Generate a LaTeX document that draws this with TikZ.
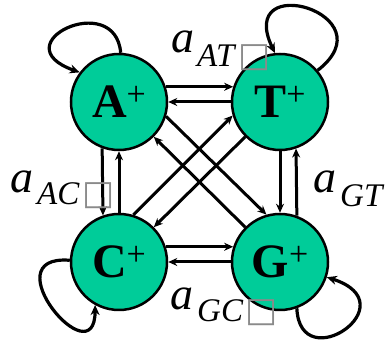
\documentclass[tikz,border=0pt]{standalone}
\usepackage{fontspec}
\setmainfont{Liberation Serif}
\newfontfamily\boxfont{DejaVu Sans}
\usetikzlibrary{arrows.meta}
\definecolor{nodegreen}{HTML}{00CC99}
\definecolor{tofugray}{HTML}{8A8A8A}
\newcommand{\plussup}{\raisebox{12pt}{\fontsize{34}{34}\selectfont\mdseries +}}
\begin{document}
\begin{tikzpicture}[x=1pt,y=1pt,
  state/.style={circle,draw=black,line width=2.5pt,fill=nodegreen,minimum size=96pt,inner sep=0pt,
    font=\fontsize{48}{48}\selectfont\bfseries},
  conn/.style={line width=3pt,-{Stealth[length=9pt,width=8pt]}},
  selfloop/.style={line width=3.2pt,line join=round,-{Stealth[length=10pt,width=9pt]}},
  lbl/.style={inner sep=0pt,anchor=base west,font=\fontsize{46}{46}\selectfont\itshape},
  sublbl/.style={inner sep=0pt,anchor=base west,font=\fontsize{33}{33}\selectfont\itshape},
  tofu/.style={inner sep=0pt,anchor=base west,text=tofugray,font=\boxfont\fontsize{34}{34}\selectfont}]
\useasboundingbox (0,0) rectangle (389,344);
\fill[white] (0,0) rectangle (389,344);
% states
\node[state] (A) at (119,242) {A\plussup};
\node[state] (T) at (280,242) {T\plussup};
\node[state] (C) at (119,82) {C\plussup};
\node[state] (G) at (280,82) {G\plussup};
% horizontal
\draw[conn] (A.18) -- (T.162);
\draw[conn] (T.180) -- (A.0);
\draw[conn] (C.18) -- (G.162);
\draw[conn] (G.180) -- (C.0);
% vertical
\draw[conn] (A.250.5) -- (C.109.5);
\draw[conn] (C.90) -- (A.270);
\draw[conn] (T.270) -- (G.90);
\draw[conn] (G.70.5) -- (T.289.5);
% diagonals
\draw[conn] (A.343.6) -- (G.106.4);
\draw[conn] (G.135) -- (A.315);
\draw[conn] (C.73.6) -- (T.196.4);
\draw[conn] (T.225) -- (C.45);
% self loops
\draw[selfloop] (A.88) .. controls (115,355) and (0,300) .. (A.143);
\draw[selfloop] (T.40) .. controls (390,330) and (235,375) .. (T.96);
\draw[selfloop] (C.178) .. controls (-10,90) and (95,-35) .. (C.241);
\draw[selfloop] (G.290) .. controls (300,-35) and (410,40) .. (G.342);
% labels
\node[lbl] (aAT) at (171,291) {a};
\node[sublbl] (sAT) at (197,277) {AT};
\node[tofu] (bAT) at (238,277) {□};
\node[lbl] (aAC) at (10,151) {a};
\node[sublbl] (sAC) at (37,139) {AC};
\node[tofu] (bAC) at (82,139) {□};
\node[lbl] (aGT) at (313,151) {a};
\node[sublbl] (sGT) at (340,137) {GT};
\node[lbl] (aGC) at (170,34) {a};
\node[sublbl] (sGC) at (197,22) {GC};
\node[tofu] (bGC) at (245,22) {□};
\end{tikzpicture}
\end{document}
